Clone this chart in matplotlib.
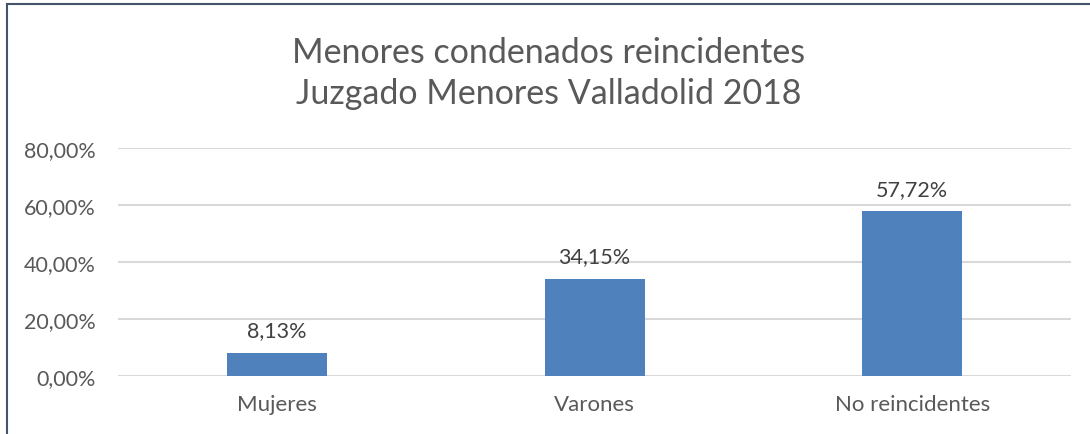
import matplotlib.pyplot as plt
from matplotlib.lines import Line2D
from matplotlib.ticker import FuncFormatter

categories = ["Mujeres", "Varones", "No reincidentes"]
values = [8.13, 34.15, 57.72]
title = "Menores condenados reincidentes\nJuzgado Menores Valladolid 2018"

plt.rcParams['font.family'] = ['Lato', 'DejaVu Sans']
text_color = "#595959"

fig = plt.figure(figsize=(10.9, 4.35), dpi=100)
ax = fig.add_axes([0.1083, 0.1333, 0.8743, 0.5242])

x = range(len(categories))
bars = ax.bar(x, values, width=0.315, color="#4F81BD", zorder=3)
for b, v in zip(bars, values):
    ax.text(b.get_x() + b.get_width() / 2, v + 4.3, f"{v:.2f}%".replace(".", ","),
            ha="center", va="bottom", fontsize=15.5, color="#404040")

ax.set_xlim(-0.5, 2.5)
ax.set_ylim(0, 80)
ax.set_yticks([0, 20, 40, 60, 80])
ax.yaxis.set_major_formatter(FuncFormatter(lambda v, p: f"{v:.2f}%".replace(".", ",")))
ax.set_xticks(list(x))
ax.set_xticklabels(categories)
ax.tick_params(axis="y", length=0, labelsize=15.5, colors=text_color, pad=16)
ax.tick_params(axis="x", length=0, labelsize=16, colors=text_color, pad=13)
ax.grid(axis="y", color="#D9D9D9", linewidth=1.5, zorder=0)
for s in ax.spines.values():
    s.set_visible(False)

fig.text(0.503, 0.831, title, ha="center", va="center", fontsize=24.5,
         color=text_color, linespacing=1.38)

# chart area border (left and top only visible)
fig.add_artist(Line2D([0.0064, 0.0064], [0, 0.988], transform=fig.transFigure,
                      color="#44546A", linewidth=1.5))
fig.add_artist(Line2D([0.0064, 1], [0.988, 0.988], transform=fig.transFigure,
                      color="#44546A", linewidth=1.5))

fig.savefig("out.png", dpi=100)
